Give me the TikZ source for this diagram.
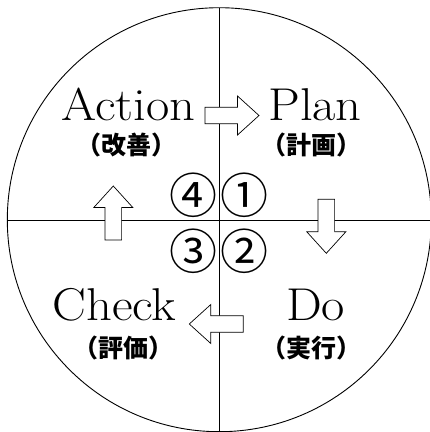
\documentclass[tikz,border=0pt]{standalone}
\usepackage{fontspec}
\newfontfamily\cjk{Noto Sans CJK JP}
\begin{document}
\begin{tikzpicture}[x=1pt,y=-1pt, line width=0.9pt,
  lab/.style={font=\fontsize{46}{46}\selectfont, inner sep=0pt, anchor=base},
  sub/.style={font=\cjk\bfseries\fontsize{25}{25}\selectfont, inner sep=0pt},
  num/.style={font=\cjk\fontsize{48}{48}\selectfont, inner sep=0pt},
  blockarrow/.pic={\draw[fill=white, line width=0.7pt] (0,-8.3) -- (32.5,-8.3) -- (32.5,-19.5) -- (54,0) -- (32.5,19.5) -- (32.5,8.3) -- (0,8.3) -- cycle;}]
\useasboundingbox (0,0) rectangle (430,432);
\begin{scope}
\clip (0,0) rectangle (430,432);
\coordinate (O) at (219.3,219.7);
\draw (O) circle[radius=212];
\coordinate (L) at (7.3,220); \coordinate (R) at (432,220);
\coordinate (T) at (219.3,7.7); \coordinate (B) at (219.3,434);
\draw (L) -- (R);
\draw (T) -- (B);
\end{scope}
\pic at (205,115.5) {blockarrow};
\pic[rotate=-90] at (326.3,199.3) {blockarrow};
\pic[rotate=180] at (243.3,324) {blockarrow};
\pic[rotate=90] at (113.3,240) {blockarrow};
\node[lab] (action) at (128.5,120) {\scalebox{1.1}[1]{Action}};
\node[sub] (kaizen) at (126.5,145) {（改善）};
\node[lab] (plan) at (315,120) {\scalebox{1.1}[1]{Plan}};
\node[sub] (keikaku) at (311.5,145) {（計画）};
\node[lab] (check) at (114.5,320) {\scalebox{1.1}[1]{Check}};
\node[sub] (hyouka) at (124,347.5) {（評価）};
\node[lab] (do) at (315.5,320) {\scalebox{1.1}[1]{Do}};
\node[sub] (jikkou) at (311.5,347.5) {（実行）};
\node[num] (n4) at (193,195) {④};
\node[num] (n1) at (244,195) {①};
\node[num] (n2) at (244,251) {②};
\node[num] (n3) at (193,251) {③};
\end{tikzpicture}
\end{document}
